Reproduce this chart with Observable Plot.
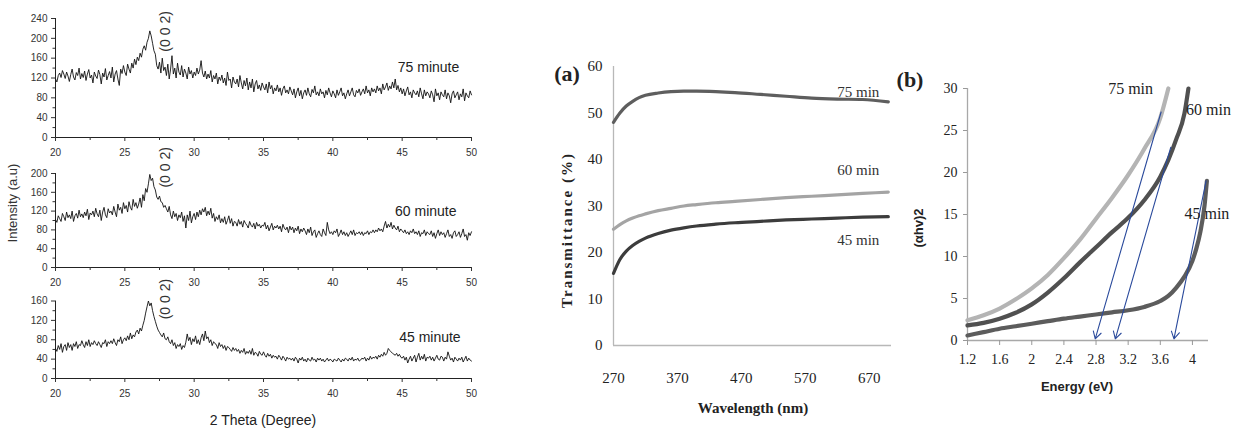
<!DOCTYPE html>
<html><head><meta charset="utf-8">
<script src="https://cdn.jsdelivr.net/npm/d3@7"></script>
<script src="https://cdn.jsdelivr.net/npm/@observablehq/plot@0.6"></script>
<style>
body{margin:0;background:#fff;}
#root{position:relative;width:1239px;height:435px;overflow:hidden;background:#fff;}
.p{position:absolute;}
.lbl{position:absolute;white-space:nowrap;transform:translate(-50%,-50%);line-height:1;}
</style>
</head><body><div id="root"></div>
<script>
// ---------- XRD (left panel) ----------
const thetaStart = 20, thetaStep = 0.1;
const int75 = [
118,112,125,130,121,135,128,119,132,124,
113,127,138,122,116,131,125,140,118,129,
121,134,115,128,137,120,126,110,132,124,
119,136,127,108,130,122,139,116,125,133,
120,142,112,128,135,118,105,138,129,145,
132,125,148,138,130,150,140,158,147,162,
155,170,162,178,185,176,192,200,215,205,
190,175,168,145,138,152,130,160,135,142,
125,148,118,138,165,128,140,120,150,132,
126,145,122,138,130,118,142,128,135,120,
132,125,140,128,136,155,130,122,134,118,
128,120,135,112,125,118,130,108,122,115,
126,110,120,105,132,115,118,100,122,112,
108,118,102,125,110,98,115,104,120,96,
112,100,118,92,108,115,98,106,95,110,
102,96,108,90,112,98,105,88,100,94,
106,92,100,85,98,104,90,96,88,102,
94,86,98,80,92,100,84,95,78,90,
96,85,100,88,82,97,90,104,86,92,
84,98,88,92,80,95,86,100,90,82,
94,88,80,96,85,92,100,84,90,78,
88,96,84,92,100,86,82,95,90,98,
85,92,98,88,104,90,96,84,100,92,
98,90,104,94,100,88,108,96,102,110,
95,104,98,112,100,118,96,105,92,100,
88,98,84,94,102,86,92,80,96,90,
86,94,82,100,88,78,96,84,92,88,
80,94,86,72,98,84,90,76,92,86,
82,96,78,90,84,70,88,94,80,86,
92,76,88,82,98,74,90,84,80,94,
86];
const int60 = [
102,96,110,104,98,115,108,100,118,106,
112,104,120,98,110,115,105,122,108,114,
106,118,110,124,102,116,112,120,108,126,
114,108,122,100,118,128,112,106,125,116,
120,112,130,118,108,135,122,128,115,138,
125,132,118,140,128,122,145,130,138,126,
135,148,128,155,142,168,160,178,198,185,
190,172,165,150,145,152,140,138,128,132,
125,118,130,112,104,120,108,115,100,112,
106,118,98,110,84,112,100,120,95,108,
115,102,118,108,122,112,125,118,128,110,
120,112,126,105,115,98,108,102,112,95,
104,96,108,92,100,110,94,104,88,98,
96,88,102,92,98,86,100,94,90,84,
98,90,86,94,82,96,88,92,84,90,
88,96,82,90,78,86,94,80,88,84,
90,82,88,76,92,84,80,86,74,88,
80,86,74,84,78,88,72,82,76,84,
78,70,82,74,86,68,76,80,64,72,
78,70,66,82,74,68,96,80,72,76,
70,78,74,82,66,72,80,70,76,68,
74,66,72,78,70,80,68,74,72,76,
70,76,68,74,72,78,70,76,74,80,
74,80,76,84,78,82,76,88,98,84,
92,86,96,82,90,84,80,88,76,82,
78,74,80,72,76,70,78,74,82,72,
76,70,78,66,74,72,80,68,76,72,
70,78,66,74,62,72,80,68,76,70,
74,64,72,80,66,70,62,74,78,66,
70,76,64,72,82,66,70,58,74,68,
76];
const int45 = [
62,56,68,60,72,54,66,70,58,74,
64,70,58,72,66,76,62,70,68,78,
70,64,76,68,80,66,74,70,78,72,
68,76,70,64,74,72,80,66,76,72,
78,72,82,74,68,80,76,86,72,80,
84,78,88,80,94,82,90,86,96,100,
92,104,98,110,120,135,148,160,150,156,
140,128,118,108,100,95,90,86,94,82,
80,86,76,72,80,68,74,62,70,66,
72,60,68,64,75,92,78,85,70,82,
76,88,72,80,70,84,92,78,98,82,
86,74,80,68,76,72,70,62,74,66,
70,62,68,58,66,64,60,56,64,58,
62,56,60,52,58,54,62,50,56,52,
58,50,62,48,54,52,46,56,50,48,
55,48,44,52,46,50,42,48,44,46,
40,48,44,38,46,42,36,44,40,42,
38,42,36,44,40,32,42,38,44,36,
40,34,42,38,36,44,38,40,34,42,
38,42,36,40,34,38,42,36,40,38,
34,40,38,36,42,38,34,40,36,42,
40,36,42,38,44,36,40,38,42,36,
38,42,40,44,36,42,38,46,40,44,
42,46,40,48,44,50,46,54,48,52,
62,58,55,52,50,48,52,46,50,44,
42,46,38,44,32,40,46,36,42,48,
34,44,52,38,46,40,50,36,44,42,
46,38,44,36,42,48,40,38,46,44,
36,44,40,55,46,38,42,34,44,40,
36,42,38,44,34,40,46,36,42,38,
36];
const xrdTicks = [20,25,30,35,40,45,50];
const xrdMinorTicks = [22.5,27.5,32.5,37.5,42.5,47.5];
const xrdYTicks75 = [0,40,80,120,160,200,240];
const xrdYTicks60 = [0,40,80,120,160,200];
const xrdYTicks45 = [0,40,80,120,160];
const xrdYMinor75 = [20,60,100,140,180,220];
const xrdYMinor60 = [20,60,100,140,180];
const xrdYMinor45 = [20,60,100,140];
const xrdNames = ["75 minute","60 minute","45 minute"];
const xrdNameTheta = [46.9, 46.7, 47.0];
const xrdNameInt = [142, 119, 84];
const peakName = "(0 0 2)";
const peakTheta = 27.93;
const peakInt = [214, 213, 164];

// ---------- (a) Transmittance ----------
const wavelengths = [270,280,290,300,310,320,340,360,380,400,430,460,500,540,580,620,660,700];
const trans75 = [48.0,50.0,51.5,52.5,53.3,53.8,54.3,54.6,54.7,54.7,54.6,54.4,54.0,53.6,53.2,53.0,52.9,52.4];
const trans60 = [25.0,26.0,26.8,27.4,27.9,28.3,29.0,29.5,30.0,30.3,30.7,31.0,31.4,31.8,32.1,32.4,32.7,33.0];
const trans45 = [15.5,18.5,20.3,21.5,22.4,23.1,24.1,24.8,25.3,25.7,26.1,26.4,26.7,27.0,27.2,27.4,27.6,27.7];
const wlTicks = [270,370,470,570,670];
const transTicks = [0,10,20,30,40,50,60];
const seriesNames = ["75 min","60 min","45 min"];
const aLabelWl = [653, 653, 653];
const aLabelT = [54.4, 37.6, 22.6];

// ---------- (b) Tauc plot ----------
const energy75 = [1.2,1.4,1.6,1.8,2.0,2.2,2.4,2.6,2.8,3.0,3.2,3.4,3.6,3.7];
const ahv75 = [2.4,3.0,3.8,4.9,6.2,7.8,9.8,12.0,14.5,17.0,19.7,22.8,26.5,30.0];
const energy60 = [1.2,1.4,1.6,1.8,2.0,2.2,2.4,2.6,2.8,3.0,3.2,3.4,3.6,3.7,3.8,3.9,3.95];
const ahv60 = [1.8,2.1,2.6,3.3,4.3,5.7,7.4,9.3,11.1,12.9,14.6,16.7,19.5,21.5,24.0,27.0,30.0];
const energy45 = [1.2,1.4,1.6,1.8,2.0,2.2,2.4,2.6,2.8,3.0,3.2,3.4,3.6,3.7,3.8,3.9,4.0,4.05,4.1,4.15,4.18];
const ahv45 = [0.6,1.0,1.4,1.7,2.0,2.3,2.6,2.85,3.1,3.35,3.6,4.0,4.7,5.3,6.3,7.6,9.5,11.0,13.0,16.0,19.0];
const energyTicks = [1.2,1.6,2.0,2.4,2.8,3.2,3.6,4.0];
const ahvTicks = [0,5,10,15,20,25,30];
const arrowFromE = [3.61, 3.73, 4.17];
const arrowFromY = [27.2, 23.0, 19.0];
const arrowToE = [2.79, 3.04, 3.77];
const arrowToY = [0.2, 0.2, 0.2];
const bLabelE = [3.23, 4.2, 4.18];
const bLabelY = [30.0, 27.4, 15.1];

const root = document.getElementById("root");
function place(el, left, top) {
  const d = document.createElement("div");
  d.className = "p"; d.style.left = left + "px"; d.style.top = top + "px";
  d.appendChild(el); root.appendChild(d);
}
function label(text, x, y, css, rotate) {
  const d = document.createElement("div");
  d.className = "lbl"; d.textContent = text;
  d.style.left = x + "px"; d.style.top = y + "px";
  Object.assign(d.style, css);
  if (rotate) d.style.transform = "translate(-50%,-50%) rotate(-90deg)";
  root.appendChild(d);
}
const noLabel = () => "";

function xrdPlot(values, yMax, yTicks, yMinor, idx, height, mt, mb) {
  const data = values.map((v, i) => ({theta: thetaStart + i * thetaStep, v}));
  return Plot.plot({
    width: 490, height, marginLeft: 55, marginRight: 19, marginTop: mt, marginBottom: mb,
    x: {domain: [20, 50]}, y: {domain: [0, yMax]},
    style: {background: "transparent", overflow: "visible", fontFamily: "Liberation Sans, Arial, sans-serif", fontSize: "10px", color: "#333"},
    marks: [
      Plot.ruleX([20], {stroke: "#222"}),
      Plot.ruleY([0], {stroke: "#222"}),
      Plot.axisX(xrdTicks, {tickSize: 4, tickPadding: 7, label: null, fontSize: 10, letterSpacing: "1.5px"}),
      Plot.axisX(xrdMinorTicks, {tickSize: 3, tickFormat: noLabel, label: null}),
      Plot.axisY(yTicks, {tickSize: 4, tickPadding: 4, label: null, fontSize: 10}),
      Plot.axisY(yMinor, {tickSize: 2.5, tickFormat: noLabel, label: null}),
      Plot.line(data, {x: "theta", y: "v", stroke: "#111", strokeWidth: 0.9}),
      Plot.text([{theta: xrdNameTheta[idx], v: xrdNameInt[idx], t: xrdNames[idx]}], {x: "theta", y: "v", text: "t", fontSize: 14, fill: "#222"}),
      Plot.text([{theta: peakTheta, v: peakInt[idx], t: peakName}], {x: "theta", y: "v", text: "t", rotate: -90, fontSize: 14, fill: "#333"})
    ]
  });
}

place(xrdPlot(int75, 240, xrdYTicks75, xrdYMinor75, 0, 165, 18, 28), 0, 0);
place(xrdPlot(int60, 200, xrdYTicks60, xrdYMinor60, 1, 125, 8, 23), 0, 165);
place(xrdPlot(int45, 160, xrdYTicks45, xrdYMinor45, 2, 120, 10.5, 32), 0, 290);

label("Intensity (a.u)", 12, 203, {fontFamily: "Liberation Sans, Arial, sans-serif", fontSize: "13px", color: "#333"}, true);
label("2 Theta (Degree)", 263, 420, {fontFamily: "Liberation Sans, Arial, sans-serif", fontSize: "14px", color: "#222"});

// (a)
const aSeries = [trans75, trans60, trans45].map(arr => arr.map((t, i) => ({wl: wavelengths[i], t})));
const aColors = ["#5e5e5e", "#a4a4a4", "#3c3c3c"];
const plotA = Plot.plot({
  width: 370, height: 435, marginLeft: 73, marginRight: 19, marginTop: 66, marginBottom: 90,
  x: {domain: [270, 705]}, y: {domain: [0, 60]},
  style: {background: "transparent", overflow: "visible", fontFamily: "Liberation Serif, Times New Roman, serif", fontSize: "15px", color: "#222"},
  marks: [
    Plot.ruleX([270], {stroke: "#b8b8b8", strokeWidth: 1.3}),
    Plot.ruleY([0], {stroke: "#b8b8b8", strokeWidth: 1.3}),
    Plot.axisX(wlTicks, {tickSize: 0, tickPadding: 27, label: null, fontSize: 15}),
    Plot.axisY(transTicks, {tickSize: 0, tickPadding: 11, label: null, fontSize: 15}),
    ...aSeries.map((d, k) => Plot.line(d, {x: "wl", y: "t", stroke: aColors[k], strokeWidth: 3.2, curve: "monotone-x"})),
    Plot.text(seriesNames.map((s, k) => ({wl: aLabelWl[k], t: aLabelT[k], s})), {x: "wl", y: "t", text: "s", fontSize: 15, fill: "#333"})
  ]
});
place(plotA, 540, 0);
label("Transmittance (%)", 567, 230, {fontFamily: "Liberation Serif, Times New Roman, serif", fontSize: "15px", fontWeight: "bold", letterSpacing: "2px", color: "#222"}, true);
label("Wavelength (nm)", 753, 408, {fontFamily: "Liberation Serif, Times New Roman, serif", fontSize: "15px", fontWeight: "bold", color: "#222"});
label("(a)", 567, 74, {fontFamily: "Liberation Serif, Times New Roman, serif", fontSize: "22px", fontWeight: "bold", color: "#222"});

// (b)
const bSeries = [[energy75, ahv75], [energy60, ahv60], [energy45, ahv45]].map(([e, a]) => e.map((x, i) => ({e: x, a: a[i]})));
const bColors = ["#b4b4b4", "#505050", "#5c5c5c"];
const arrows = arrowFromE.map((x, i) => ({x1: x, y1: arrowFromY[i], x2: arrowToE[i], y2: arrowToY[i]}));
const plotB = Plot.plot({
  width: 339, height: 435, marginLeft: 67, marginRight: 31, marginTop: 88, marginBottom: 95,
  x: {domain: [1.2, 4.2]}, y: {domain: [0, 30]},
  style: {background: "transparent", overflow: "visible", fontFamily: "Liberation Serif, Times New Roman, serif", fontSize: "14px", color: "#222"},
  marks: [
    Plot.ruleX([1.2], {stroke: "#a8a8a8", strokeWidth: 1.3}),
    Plot.ruleY([0], {stroke: "#a8a8a8", strokeWidth: 1.3}),
    Plot.axisX(energyTicks, {tickSize: 5, tickPadding: 9, label: null, fontSize: 14, stroke: "#999", tickFormat: d => String(+d.toFixed(1))}),
    Plot.axisY(ahvTicks, {tickSize: 4, tickPadding: 6, label: null, fontSize: 14, stroke: "#999"}),
    ...bSeries.map((d, k) => Plot.line(d, {x: "e", y: "a", stroke: bColors[k], strokeWidth: 4.2, curve: "monotone-x"})),
    Plot.arrow(arrows, {x1: "x1", y1: "y1", x2: "x2", y2: "y2", stroke: "#2a4a9c", strokeWidth: 1.1, headLength: 11}),
    Plot.text(seriesNames.map((s, k) => ({e: bLabelE[k], a: bLabelY[k], s})), {x: "e", y: "a", text: "s", fontSize: 16, fill: "#222"})
  ]
});
place(plotB, 900, 0);
label("(αhv)2", 918, 228, {fontFamily: "Liberation Sans, Arial, sans-serif", fontSize: "13px", fontWeight: "bold", color: "#222"}, true);
label("Energy (eV)", 1077, 386, {fontFamily: "Liberation Sans, Arial, sans-serif", fontSize: "13px", fontWeight: "bold", color: "#222"});
label("(b)", 910, 80, {fontFamily: "Liberation Serif, Times New Roman, serif", fontSize: "22px", fontWeight: "bold", color: "#222"});
</script>
</body></html>
